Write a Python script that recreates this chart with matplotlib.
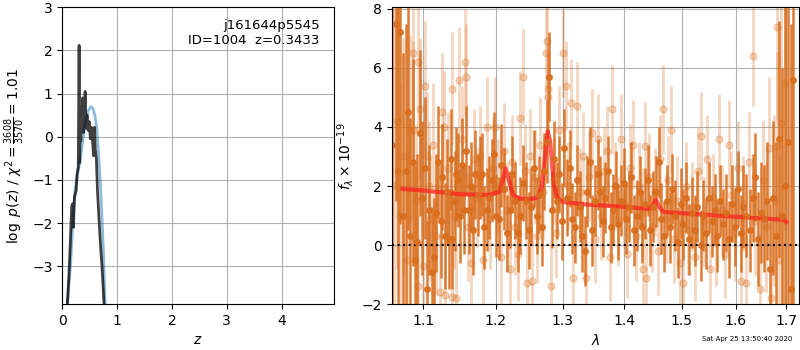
import matplotlib
matplotlib.use('Agg')
import matplotlib.pyplot as plt
import matplotlib.ticker as mticker
import numpy as np

# p(z) panel
z_pz = [0.09, 0.12, 0.14, 0.17, 0.19, 0.20, 0.22, 0.25, 0.27, 0.29, 0.305, 0.315, 0.325,
        0.335, 0.345, 0.355, 0.37, 0.385, 0.40, 0.415, 0.43, 0.45, 0.47, 0.49, 0.51, 0.53,
        0.55, 0.57, 0.585, 0.60, 0.62, 0.64, 0.66, 0.68, 0.70, 0.72, 0.74, 0.76]
logp = [-3.88, -3.2, -2.6, -1.6, -1.55, -2.1, -1.4, -1.25, -0.85, -0.7, 2.12, -0.6, 0.7,
        -0.1, 0.55, 0.3, 0.9, 0.1, 0.4, 1.05, 0.2, 0.5, 0.15, 0.35, -0.05, 0.22,
        -0.1, -0.44, 0.22, -0.3, -0.5, -1.25, -1.7, -2.18, -2.6, -2.95, -3.4, -3.88]

z_prior = [0.09, 0.12, 0.15, 0.19, 0.23, 0.27, 0.32, 0.37, 0.42, 0.47, 0.52, 0.56, 0.60,
           0.63, 0.66, 0.69, 0.72, 0.75, 0.78]
logp_prior = [-3.88, -3.4, -2.95, -2.0, -1.25, -0.9, -0.6, -0.1, 0.35, 0.6, 0.70, 0.65, 0.45,
              0.15, -0.4, -1.0, -1.8, -2.7, -3.88]

# spectrum, beam 1 (dark)
lam1 = [1.060, 1.064, 1.067, 1.070, 1.073, 1.077, 1.080, 1.083, 1.086, 1.089, 1.092, 1.095,
        1.098, 1.102, 1.105, 1.108, 1.111, 1.114, 1.117, 1.120, 1.123, 1.125, 1.129, 1.132,
        1.134, 1.137, 1.139, 1.142, 1.144, 1.147, 1.150, 1.152, 1.155, 1.158, 1.162, 1.165,
        1.168, 1.171, 1.174, 1.177, 1.180, 1.183, 1.187, 1.190, 1.194, 1.197, 1.200, 1.204,
        1.208, 1.212, 1.216, 1.220, 1.224, 1.228, 1.232, 1.236, 1.240, 1.244, 1.248, 1.252,
        1.256, 1.260, 1.264, 1.268, 1.272, 1.276, 1.279, 1.283, 1.287, 1.291, 1.295, 1.299,
        1.303, 1.307, 1.311, 1.315, 1.319, 1.323, 1.327, 1.331, 1.335, 1.339, 1.343, 1.347,
        1.351, 1.356, 1.360, 1.364, 1.368, 1.373, 1.377, 1.381, 1.386, 1.390, 1.394, 1.399,
        1.403, 1.408, 1.412, 1.417, 1.421, 1.426, 1.430, 1.435, 1.440, 1.444, 1.449, 1.454,
        1.459, 1.463, 1.468, 1.473, 1.478, 1.483, 1.488, 1.493, 1.498, 1.503, 1.508, 1.513,
        1.518, 1.523, 1.528, 1.534, 1.539, 1.544, 1.549, 1.555, 1.560, 1.565, 1.571, 1.576,
        1.582, 1.587, 1.593, 1.598, 1.604, 1.610, 1.615, 1.621, 1.627, 1.633, 1.638, 1.644,
        1.650, 1.656, 1.662, 1.668, 1.674, 1.680, 1.686, 1.692, 1.698, 1.704, 1.710, 1.715]
flux1 = [3.4, 7.5, 2.5, 7.2, 1.0, 2.5, 4.5, 0.3, 2.8, -0.5, 0.1, 3.8,
         1.6, 2.6, -1.5, 1.2, -0.9, -0.4, 1.1, 2.8, 0.8, 2.3, 0.3, 1.8,
         0.2, 2.9, 0.2, 1.5, 2.4, 2.2, 1.0, 2.7, 1.2, 3.2, 1.2, 2.0,
         0.5, 2.4, 1.7, 2.3, 2.4, 0.6, 1.2, 1.6, 2.2, 3.1, 1.0, 0.9,
         2.7, 1.9, 0.4, 1.2, 2.4, 1.5, 0.4, 1.0, 2.1, 1.5, 0.5, 1.3,
         2.6, 1.0, 1.7, 0.6, 2.5, 3.5, 5.7, 1.2, 2.9, 1.5, 2.4, 0.8,
         3.3, 1.6, 2.6, 0.9, 0.6, 2.2, 1.3, 0.3, -0.2, 1.8, 2.8, 0.5,
         1.5, 2.4, 1.8, 0.8, 1.6, 2.5, 0.6, 1.2, 2.0, 0.7, 1.5, 2.1,
         0.9, 1.3, 2.3, 0.5, 1.0, 1.8, 0.6, 1.4, 2.2, 0.5, 1.3, 1.8,
         2.8, 0.9, 0.3, 1.5, 0.6, 1.9, 1.0, 0.1, 1.4, 0.7, 1.6, 0.2,
         1.1, 0.5, 1.3, 0.0, 1.0, 0.4, 1.6, 0.8, 1.2, 0.3, 1.5, 0.7,
         1.1, 0.2, 1.4, 0.6, 1.9, 0.4, 1.3, 1.0, 0.5, 1.6, 2.3, 0.2,
         1.1, 0.9, 1.5, -0.8, 1.6, 0.3, 3.6, 1.0, 2.0, 3.5, -1.5, 5.6]
err1 = [9.0, 6.0, 7.0, 6.5, 5.5, 5.0, 4.0, 4.0, 3.5, 3.2, 3.0, 2.8,
        2.6, 2.4, 2.3, 2.2, 2.2, 2.0, 2.0, 1.9, 1.9, 1.8, 1.8, 1.8,
        1.7, 1.7, 1.7, 1.7, 1.6, 1.6, 1.6, 1.6, 1.5, 1.5, 1.5, 1.5,
        1.5, 1.5, 1.4, 1.4, 1.4, 1.4, 1.4, 1.4, 1.4, 1.4, 1.4, 1.4,
        1.4, 1.4, 1.3, 1.3, 1.3, 1.3, 1.3, 1.3, 1.3, 1.3, 1.3, 1.3,
        1.3, 1.3, 1.3, 1.3, 1.3, 1.4, 1.5, 1.3, 1.3, 1.3, 1.3, 1.3,
        1.3, 1.3, 1.3, 1.2, 1.2, 1.2, 1.2, 1.2, 1.2, 1.2, 1.2, 1.2,
        1.2, 1.2, 1.2, 1.2, 1.2, 1.2, 1.2, 1.2, 1.2, 1.2, 1.2, 1.2,
        1.2, 1.2, 1.2, 1.2, 1.2, 1.2, 1.2, 1.2, 1.2, 1.2, 1.2, 1.2,
        1.2, 1.2, 1.2, 1.2, 1.2, 1.2, 1.2, 1.2, 1.2, 1.2, 1.2, 1.2,
        1.2, 1.2, 1.2, 1.2, 1.2, 1.2, 1.2, 1.2, 1.2, 1.2, 1.2, 1.2,
        1.3, 1.3, 1.3, 1.3, 1.3, 1.3, 1.4, 1.4, 1.4, 1.5, 1.5, 1.6,
        1.7, 1.8, 2.0, 2.2, 2.6, 3.2, 4.0, 5.0, 6.5, 8.0, 9.0, 10.0]

# spectrum, beam 2 (light)
lam2 = [1.062, 1.066, 1.070, 1.074, 1.078, 1.082, 1.086, 1.087, 1.090, 1.093, 1.093, 1.096,
        1.100, 1.102, 1.105, 1.107, 1.109, 1.113, 1.117, 1.122, 1.125, 1.127, 1.129, 1.133,
        1.138, 1.138, 1.141, 1.144, 1.148, 1.152, 1.157, 1.158, 1.161, 1.165, 1.169, 1.173,
        1.177, 1.182, 1.188, 1.192, 1.196, 1.199, 1.203, 1.208, 1.212, 1.216, 1.220, 1.224,
        1.228, 1.232, 1.236, 1.239, 1.243, 1.246, 1.250, 1.253, 1.257, 1.261, 1.265, 1.270,
        1.274, 1.276, 1.277, 1.278, 1.282, 1.286, 1.290, 1.294, 1.300, 1.305, 1.309, 1.314,
        1.317, 1.323, 1.327, 1.332, 1.337, 1.342, 1.347, 1.352, 1.357, 1.362, 1.367, 1.372,
        1.376, 1.380, 1.385, 1.390, 1.395, 1.400, 1.405, 1.410, 1.415, 1.420, 1.425, 1.430,
        1.432, 1.435, 1.437, 1.442, 1.447, 1.452, 1.457, 1.461, 1.466, 1.471, 1.476, 1.480,
        1.486, 1.491, 1.496, 1.502, 1.507, 1.512, 1.518, 1.523, 1.529, 1.534, 1.540, 1.546,
        1.552, 1.557, 1.563, 1.568, 1.574, 1.580, 1.587, 1.592, 1.598, 1.604, 1.610, 1.615,
        1.620, 1.626, 1.633, 1.638, 1.647, 1.653, 1.660, 1.666, 1.670, 1.676, 1.681, 1.681,
        1.686, 1.689, 1.692, 1.697]
flux2 = [2.0, 4.2, 1.0, 3.0, -0.5, 3.9, 3.9, 6.5, 1.5, 6.2, -1.4, 4.6,
         -0.7, 5.4, 3.0, 2.0, 0.9, 3.4, 0.3, -1.6, 4.5, 4.0, -1.7, 2.6,
         5.3, -1.75, 1.0, -1.8, 5.6, 3.6, 6.2, 5.7, 0.6, -0.6, 2.9, 1.6,
         3.0, -0.5, 4.0, 0.9, 2.6, 4.0, 2.0, -0.4, 3.2, 1.2, -0.8, 2.8,
         0.6, -0.3, 4.3, 5.7, 2.5, -1.3, 3.0, -1.2, 2.3, 0.3, 3.4, 1.8,
         6.5, 6.9, 5.3, 5.0, -1.4, 2.2, 0.4, 3.9, 6.5, 5.4, 2.0, 4.8,
         -1.1, 4.7, 1.8, 3.0, -1.1, 2.3, 3.8, 0.2, 3.6, 1.0, 2.5, 3.2,
         -0.4, 4.6, 2.0, 0.8, 3.6, 1.4, -0.3, 2.6, 3.4, 0.3, 2.0, 1.1,
         -0.8, 3.35, -1.1, 2.3, 0.6, 1.8, -0.2, 2.9, 4.6, 0.9, 2.2, 3.9,
         0.2, 1.5, -0.6, -1.3, 2.0, 0.5, 1.3, -0.4, 2.5, 3.7, 0.8, 2.9,
         -0.8, 1.6, 0.1, 3.6, 1.2, -0.3, 3.4, 1.7, 0.4, 2.6, -1.2, 1.4,
         -1.3, 2.8, 6.4, 0.8, -1.5, 2.2, 0.6, 3.3, -1.8, 1.5, 7.4, 3.35,
         -0.5, 4.15, 0.97, 5.5]
err2 = [6.0, 5.0, 4.5, 4.0, 3.8, 3.2, 3.0, 2.8, 2.6, 2.5, 2.4, 2.4,
        2.3, 2.2, 2.2, 2.2, 2.1, 2.1, 2.0, 2.0, 2.0, 1.9, 1.9, 1.9,
        1.9, 1.9, 1.8, 1.8, 1.8, 1.8, 1.8, 1.8, 1.8, 1.8, 1.7, 1.7,
        1.7, 1.7, 1.7, 1.7, 1.7, 1.7, 1.6, 1.6, 1.6, 1.6, 1.6, 1.6,
        1.6, 1.6, 1.6, 1.6, 1.6, 1.6, 1.6, 1.6, 1.6, 1.6, 1.6, 1.6,
        1.6, 1.6, 1.5, 1.5, 1.5, 1.5, 1.5, 1.5, 1.5, 1.5, 1.5, 1.5,
        1.5, 1.5, 1.5, 1.5, 1.5, 1.5, 1.5, 1.5, 1.5, 1.5, 1.5, 1.5,
        1.5, 1.5, 1.5, 1.5, 1.5, 1.5, 1.5, 1.5, 1.5, 1.5, 1.5, 1.5,
        1.5, 1.5, 1.5, 1.5, 1.5, 1.5, 1.5, 1.5, 1.5, 1.5, 1.5, 1.5,
        1.5, 1.5, 1.5, 1.5, 1.5, 1.5, 1.5, 1.5, 1.5, 1.5, 1.5, 1.5,
        1.5, 1.5, 1.5, 1.5, 1.5, 1.5, 1.5, 1.5, 1.6, 1.6, 1.6, 1.6,
        1.6, 1.7, 1.7, 1.8, 1.9, 2.0, 2.2, 2.4, 2.6, 2.9, 3.2, 3.2,
        3.6, 4.0, 4.5, 5.0]

# best-fit model
lam_model = [1.073, 1.10, 1.15, 1.19, 1.205, 1.21, 1.214, 1.219, 1.225, 1.235, 1.25, 1.262,
             1.268, 1.272, 1.277, 1.281, 1.286, 1.292, 1.30, 1.34, 1.40, 1.44, 1.447, 1.454,
             1.46, 1.467, 1.50, 1.55, 1.60, 1.65, 1.695, 1.70]
flux_model = [1.90, 1.85, 1.72, 1.70, 1.80, 2.2, 2.6, 2.2, 1.7, 1.57, 1.55, 1.62,
              1.95, 2.8, 3.86, 3.5, 2.1, 1.6, 1.46, 1.37, 1.30, 1.22, 1.30, 1.54,
              1.30, 1.12, 1.08, 1.02, 0.96, 0.90, 0.86, 0.78]

lam_ticks = [1.1, 1.2, 1.3, 1.4, 1.5, 1.6, 1.7]

orange = '#d96e1e'

fig = plt.figure(figsize=(8, 3.5), dpi=100)
ax1 = fig.add_axes([0.078, 0.131, 0.339, 0.848])
ax2 = fig.add_axes([0.4896, 0.131, 0.5095, 0.848])

# left: p(z)
ax1.plot(z_prior, logp_prior, color='tab:blue', alpha=0.5, lw=2)
ax1.plot(z_pz, logp, color='k', alpha=0.75, lw=2)
ax1.set_xlim(0, 4.95)
ax1.set_ylim(-3.88, 3)
ax1.set_xticks([0, 1, 2, 3, 4])
ax1.set_yticks([-3, -2, -1, 0, 1, 2, 3])
ax1.grid()
ax1.set_xlabel(r'$z$')
ax1.set_ylabel(r'$\log\ p(z)$' + ' / ' + r'$\chi^2=\frac{3608}{3570}=1.01$')
ax1.text(0.948, 0.96, 'j161644p5545\nID=1004  z=0.3433', transform=ax1.transAxes,
         ha='right', va='top', fontsize=9.5)

# right: spectrum
ax2.errorbar(lam2, flux2, yerr=err2, marker='o', ms=5, linestyle='None',
             color=orange, alpha=0.28, elinewidth=2.0)
ax2.errorbar(lam1, flux1, yerr=err1, marker='o', ms=4, linestyle='None',
             color=orange, alpha=0.9, elinewidth=1.8)
ax2.plot(lam_model, flux_model, color='#ff1a1a', alpha=0.7, lw=3)
ax2.axhline(0, color='k', linestyle=':', lw=1.5)
ax2.set_xscale('log')
ax2.set_xlim(1.059, 1.727)
ax2.set_ylim(-2, 8.05)
ax2.xaxis.set_major_locator(mticker.FixedLocator(lam_ticks))
ax2.xaxis.set_major_formatter(mticker.FormatStrFormatter('%.1f'))
ax2.xaxis.set_minor_locator(mticker.NullLocator())
ax2.set_yticks([-2, 0, 2, 4, 6, 8])
ax2.grid()
ax2.set_xlabel(r'$\lambda$')
ax2.set_ylabel(r'$f_\lambda\times10^{-19}$')

fig.text(0.991, 0.031, 'Sat Apr 25 13:50:40 2020', ha='right', va='center', fontsize=5)

fig.savefig('out.png', dpi=100)
